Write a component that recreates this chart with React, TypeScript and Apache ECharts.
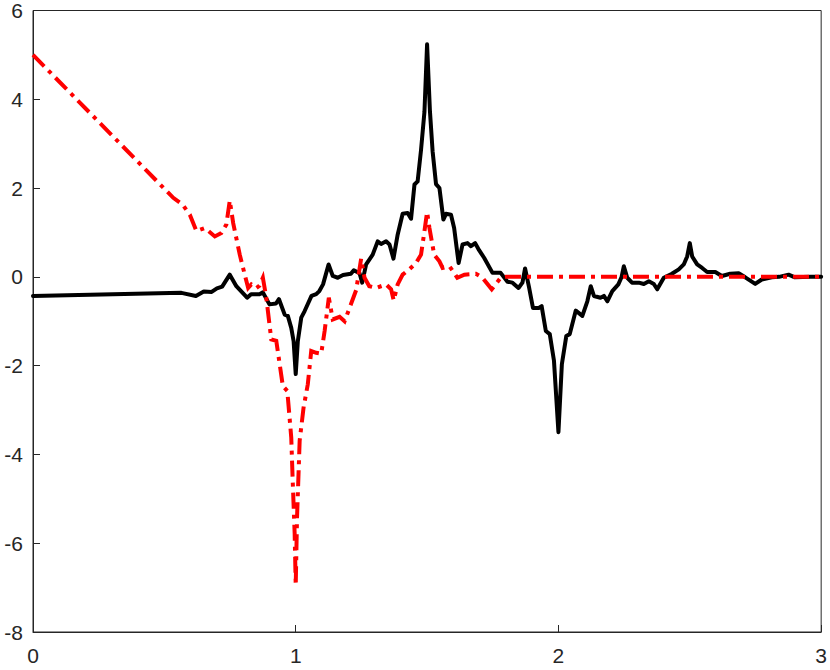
import React, { useEffect, useRef } from "react";
import * as echarts from "echarts";

const blackX = [0, 0.565, 0.62, 0.65, 0.68, 0.7, 0.72, 0.749, 0.774, 0.815, 0.83, 0.862, 0.875, 0.9, 0.925, 0.936, 0.958, 0.97, 0.983, 0.992, 1.0, 1.008, 1.021, 1.034, 1.06, 1.078, 1.09, 1.104, 1.125, 1.141, 1.16, 1.18, 1.21, 1.221, 1.243, 1.253, 1.268, 1.293, 1.312, 1.325, 1.344, 1.357, 1.372, 1.388, 1.407, 1.426, 1.439, 1.452, 1.464, 1.477, 1.49, 1.5, 1.511, 1.521, 1.534, 1.547, 1.562, 1.572, 1.591, 1.603, 1.62, 1.635, 1.654, 1.667, 1.683, 1.698, 1.717, 1.749, 1.78, 1.806, 1.825, 1.848, 1.863, 1.873, 1.888, 1.903, 1.925, 1.936, 1.952, 1.967, 1.983, 2.0, 2.013, 2.03, 2.043, 2.066, 2.091, 2.11, 2.123, 2.135, 2.16, 2.173, 2.186, 2.205, 2.228, 2.24, 2.249, 2.262, 2.28, 2.306, 2.325, 2.344, 2.363, 2.376, 2.401, 2.432, 2.458, 2.477, 2.49, 2.5, 2.509, 2.528, 2.547, 2.566, 2.597, 2.622, 2.654, 2.686, 2.711, 2.749, 2.774, 2.812, 2.84, 2.876, 2.9, 2.96, 3.0];
const blackY = [-0.43, -0.36, -0.43, -0.33, -0.34, -0.26, -0.22, 0.05, -0.21, -0.47, -0.39, -0.39, -0.35, -0.62, -0.6, -0.5, -0.85, -0.88, -1.15, -1.45, -2.19, -1.45, -0.92, -0.77, -0.43, -0.39, -0.32, -0.17, 0.28, 0.02, -0.02, 0.04, 0.07, 0.15, 0.08, -0.13, 0.28, 0.5, 0.8, 0.74, 0.8, 0.73, 0.41, 0.95, 1.42, 1.44, 1.31, 2.08, 2.15, 2.86, 3.72, 5.24, 3.72, 2.83, 2.09, 2.0, 1.29, 1.42, 1.4, 1.1, 0.31, 0.73, 0.76, 0.69, 0.76, 0.6, 0.43, 0.09, 0.09, -0.11, -0.13, -0.25, -0.13, 0.19, -0.23, -0.7, -0.7, -0.66, -1.22, -1.29, -1.89, -3.5, -1.97, -1.33, -1.29, -0.76, -0.88, -0.55, -0.21, -0.43, -0.47, -0.43, -0.55, -0.32, -0.17, -0.01, 0.24, -0.02, -0.13, -0.13, -0.16, -0.1, -0.16, -0.28, -0.02, 0.07, 0.17, 0.28, 0.46, 0.76, 0.46, 0.28, 0.2, 0.11, 0.11, 0.02, 0.07, 0.08, -0.01, -0.16, -0.06, -0.01, 0.0, 0.05, -0.01, 0.0, 0.0];

const redX = [0, 0.534, 0.569, 0.597, 0.622, 0.654, 0.692, 0.717, 0.736, 0.749, 0.762, 0.787, 0.806, 0.819, 0.831, 0.85, 0.862, 0.875, 0.888, 0.907, 0.926, 0.939, 0.951, 0.968, 0.983, 0.989, 0.996, 1.0, 1.005, 1.015, 1.03, 1.046, 1.059, 1.078, 1.097, 1.11, 1.126, 1.141, 1.167, 1.186, 1.205, 1.23, 1.249, 1.262, 1.28, 1.306, 1.344, 1.363, 1.373, 1.388, 1.407, 1.432, 1.458, 1.477, 1.49, 1.5, 1.509, 1.527, 1.547, 1.559, 1.585, 1.603, 1.615, 1.642, 1.686, 1.711, 1.746, 1.78, 1.8, 3.0];
const redY = [5.0, 1.78, 1.63, 1.4, 1.03, 1.1, 0.91, 0.99, 1.18, 1.72, 1.21, 0.5, 0.05, -0.25, -0.17, -0.25, -0.2, -0.02, -0.47, -1.41, -1.44, -1.97, -2.46, -2.57, -3.62, -4.67, -5.79, -6.95, -5.42, -3.69, -2.94, -2.42, -1.67, -1.71, -1.73, -1.22, -0.47, -0.96, -0.9, -1.0, -0.7, -0.3, 0.41, -0.02, -0.21, -0.25, -0.17, -0.28, -0.53, -0.17, 0.05, 0.17, 0.31, 0.5, 1.03, 1.46, 1.1, 0.5, 0.35, 0.2, 0.24, 0.09, -0.02, 0.05, 0.07, -0.02, -0.28, -0.02, 0.0, 0.0];

const xTicks = [0, 1, 2, 3];
const yTicks = [-8, -6, -4, -2, 0, 2, 4, 6];

export default function App() {
  const ref = useRef<HTMLDivElement>(null);
  useEffect(() => {
    if (!ref.current) return;
    const chart = echarts.init(ref.current, null, { renderer: "svg" });
    const axisColor = "#262626";
    const blackData = blackX.map((x, i) => [x, blackY[i]]);
    const redData = redX.map((x, i) => [x, redY[i]]);
    chart.setOption({
      animation: false,
      backgroundColor: "#ffffff",
      grid: {
        left: 33,
        right: 8,
        top: 8,
        bottom: 38,
        show: true,
        borderColor: axisColor,
        borderWidth: 1,
        backgroundColor: "transparent",
      },
      xAxis: {
        type: "value",
        min: xTicks[0],
        max: xTicks[xTicks.length - 1],
        interval: 1,
        axisLine: { show: true, onZero: false, lineStyle: { color: axisColor, width: 1 } },
        axisTick: { show: true, inside: true, length: 7, lineStyle: { color: axisColor } },
        axisLabel: { color: axisColor, fontSize: 21, fontFamily: "Liberation Sans, Arial, sans-serif", margin: 13 },
        splitLine: { show: false },
      },
      yAxis: {
        type: "value",
        min: yTicks[0],
        max: yTicks[yTicks.length - 1],
        interval: 2,
        axisLine: { show: true, onZero: false, lineStyle: { color: axisColor, width: 1 } },
        axisTick: { show: true, inside: true, length: 7, lineStyle: { color: axisColor } },
        axisLabel: { color: axisColor, fontSize: 21, fontFamily: "Liberation Sans, Arial, sans-serif", margin: 10 },
        splitLine: { show: false },
      },
      series: [
        {
          type: "line",
          data: blackData,
          showSymbol: false,
          symbol: "none",
          lineStyle: { color: "#000000", width: 4, join: "round", cap: "round" },
          z: 2,
        },
        {
          type: "line",
          data: redData,
          showSymbol: false,
          symbol: "none",
          lineStyle: { color: "#ff0000", width: 4, type: [16, 6, 4, 6], join: "miter" },
          z: 3,
        },
      ],
    });
    return () => chart.dispose();
  }, []);
  return (
    <div
      ref={ref}
      style={{ position: "fixed", left: 0, top: 0, width: 830, height: 670, background: "#fff" }}
    />
  );
}
